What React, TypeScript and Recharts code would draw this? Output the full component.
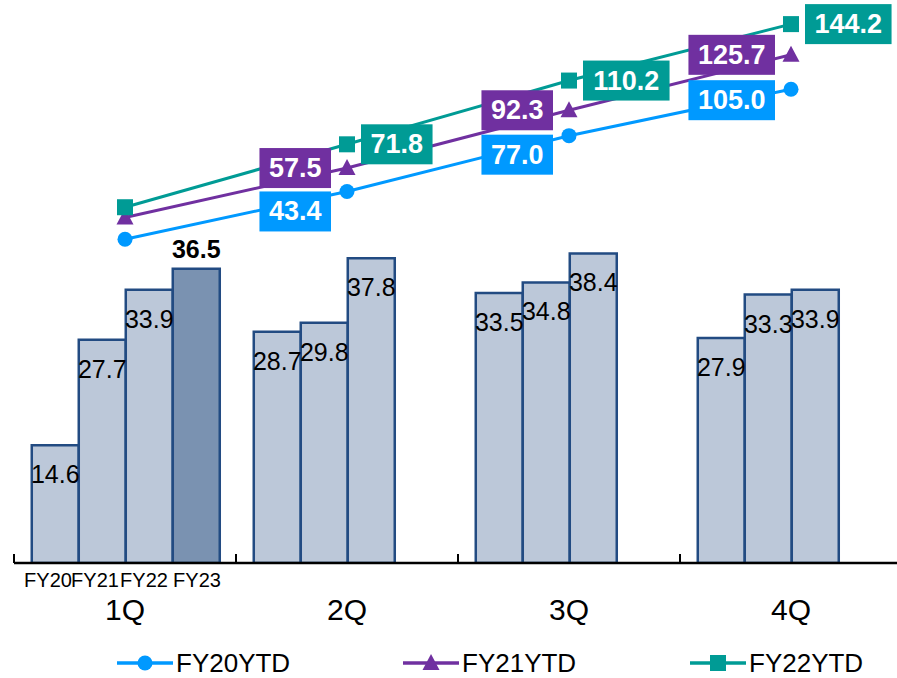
import React from 'react';
import { Bar, ComposedChart, LabelList, Line, XAxis, YAxis } from 'recharts';

const quarters = ['1Q', '2Q', '3Q', '4Q'];
const barNames = ['FY20', 'FY21', 'FY22', 'FY23'];
const fy20 = [14.6, 28.7, 33.5, 27.9];
const fy21 = [27.7, 29.8, 34.8, 33.3];
const fy22 = [33.9, 37.8, 38.4, 33.9];
const fy23 = [36.5, null, null, null];
const fy20Ytd = [14.6, 43.4, 77.0, 105.0];
const fy21Ytd = [27.7, 57.5, 92.3, 125.7];
const fy22Ytd = [33.9, 71.8, 110.2, 144.2];

const FONT = '"Liberation Sans", Arial, sans-serif';
const BLUE = '#0099FF';
const PURPLE = '#7030A0';
const TEAL = '#009B95';
const BAR_FILL = '#BCC8D9';
const BAR_FILL_DARK = '#7A92B1';
const BAR_STROKE = '#224B82';

const CHART_W = 910;
const MARGIN = { top: 10, right: 8, left: 14, bottom: 35 };
const HALF_BAND = (CHART_W - MARGIN.left - MARGIN.right) / quarters.length / 2;

// x offsets of the per-bar names under 1Q, relative to the category center
const NAME_OFFSETS = [-77, -30, 19, 72];
// vertical nudges of the FY20YTD label boxes (they sit below the line)
const FY20_LABEL_DY = [0, 20, 19, 11];

const rows = quarters.map((q, i) => ({
  q,
  fy20: fy20[i],
  fy21: fy21[i],
  fy22: fy22[i],
  fy23: fy23[i],
  fy20Ytd: fy20Ytd[i],
  fy21Ytd: fy21Ytd[i],
  fy22Ytd: fy22Ytd[i],
}));

function textWidth(s: string, size: number) {
  let w = 0;
  for (const c of s) w += c === '.' ? 0.278 : 0.556;
  return w * size;
}

function BoxLabel(props: any, color: string, side: 'left' | 'right', dy: number) {
  const { x, y, value, index } = props;
  if (index === 0 || value == null) return null;
  const text = Number(value).toFixed(1);
  const w = textWidth(text, 27) + 19;
  const h = 40;
  const left = side === 'left' ? x - 16 - w : x + 14;
  const cy = y + dy;
  return (
    <g key={`lbl-${index}`}>
      <rect x={left} y={cy - h / 2} width={w} height={h} fill={color} />
      <text
        x={left + w / 2}
        y={cy}
        textAnchor="middle"
        dominantBaseline="central"
        fill="#fff"
        fontSize={27}
        fontWeight="bold"
        fontFamily={FONT}
      >
        {text}
      </text>
    </g>
  );
}

function BarInsideLabel(props: any) {
  const { x, y, width, value } = props;
  if (value == null) return null;
  return (
    <text
      x={x + width / 2}
      y={y + 29}
      textAnchor="middle"
      dominantBaseline="central"
      fill="#000"
      fontSize={25}
      fontFamily={FONT}
    >
      {Number(value).toFixed(1)}
    </text>
  );
}

function BarTopLabel(props: any) {
  const { x, y, width, value } = props;
  if (value == null) return null;
  return (
    <text
      x={x + width / 2}
      y={y - 20}
      textAnchor="middle"
      dominantBaseline="central"
      fill="#000"
      fontSize={25}
      fontWeight="bold"
      fontFamily={FONT}
    >
      {Number(value).toFixed(1)}
    </text>
  );
}

function Marker({ cx, cy, shape, color }: { cx: number; cy: number; shape: string; color: string }) {
  if (shape === 'circle') return <circle cx={cx} cy={cy} r={7.5} fill={color} />;
  if (shape === 'square') return <rect x={cx - 8} y={cy - 8} width={16} height={16} fill={color} />;
  return <polygon points={`${cx},${cy - 9} ${cx + 8.5},${cy + 7} ${cx - 8.5},${cy + 7}`} fill={color} />;
}

function dotFor(shape: string, color: string) {
  return (p: any) => {
    if (p.cx == null || p.cy == null) return <g key={`d-${p.index}`} />;
    return <Marker key={`d-${p.index}`} cx={p.cx} cy={p.cy} shape={shape} color={color} />;
  };
}

function CategoryTick(props: any) {
  const { x, y, payload, index } = props;
  return (
    <g>
      {/* category boundary tick, pointing up into the plot */}
      <line x1={x - HALF_BAND} y1={y - 9} x2={x - HALF_BAND} y2={y} stroke="#000" strokeWidth={2} />
      {index === 0 &&
        barNames.map((n, i) => (
          <text
            key={n}
            x={x + NAME_OFFSETS[i]}
            y={y + 17}
            textAnchor="middle"
            dominantBaseline="central"
            fontSize={20}
            fontFamily={FONT}
            fill="#000"
          >
            {n}
          </text>
        ))}
      <text
        x={x}
        y={y + 46}
        textAnchor="middle"
        dominantBaseline="central"
        fontSize={30}
        fontFamily={FONT}
        fill="#000"
      >
        {payload.value}
      </text>
    </g>
  );
}

const legendItems = [
  { name: 'FY20YTD', color: BLUE, shape: 'circle', left: 117 },
  { name: 'FY21YTD', color: PURPLE, shape: 'triangle', left: 403 },
  { name: 'FY22YTD', color: TEAL, shape: 'square', left: 690 },
];

export default function App() {
  return (
    <div
      style={{
        position: 'absolute',
        left: 0,
        top: 0,
        width: 897,
        height: 678,
        overflow: 'hidden',
        background: '#fff',
        fontFamily: FONT,
      }}
    >
      <ComposedChart width={CHART_W} height={678} data={rows} margin={MARGIN} barGap={0} barCategoryGap="8%">
        <XAxis
          xAxisId="cat"
          dataKey="q"
          axisLine={{ stroke: '#000', strokeWidth: 2.5 }}
          tickLine={false}
          tickSize={0}
          tickMargin={0}
          height={80}
          interval={0}
          tick={CategoryTick}
        />
        <YAxis yAxisId="bar" hide domain={[0, 68.6]} allowDataOverflow />
        <YAxis yAxisId="line" hide domain={[-180.4, 152.7]} allowDataOverflow />

        <Bar xAxisId="cat" yAxisId="bar" dataKey="fy20" fill={BAR_FILL} stroke={BAR_STROKE} strokeWidth={2.5} isAnimationActive={false}>
          <LabelList dataKey="fy20" content={BarInsideLabel} />
        </Bar>
        <Bar xAxisId="cat" yAxisId="bar" dataKey="fy21" fill={BAR_FILL} stroke={BAR_STROKE} strokeWidth={2.5} isAnimationActive={false}>
          <LabelList dataKey="fy21" content={BarInsideLabel} />
        </Bar>
        <Bar xAxisId="cat" yAxisId="bar" dataKey="fy22" fill={BAR_FILL} stroke={BAR_STROKE} strokeWidth={2.5} isAnimationActive={false}>
          <LabelList dataKey="fy22" content={BarInsideLabel} />
        </Bar>
        <Bar xAxisId="cat" yAxisId="bar" dataKey="fy23" fill={BAR_FILL_DARK} stroke={BAR_STROKE} strokeWidth={2.5} isAnimationActive={false}>
          <LabelList dataKey="fy23" content={BarTopLabel} />
        </Bar>

        <Line xAxisId="cat" yAxisId="line" dataKey="fy20Ytd" stroke={BLUE} strokeWidth={3} dot={dotFor('circle', BLUE)} activeDot={false} isAnimationActive={false}>
          <LabelList dataKey="fy20Ytd" content={(p: any) => BoxLabel(p, BLUE, 'left', FY20_LABEL_DY[p.index] ?? 19)} />
        </Line>
        <Line xAxisId="cat" yAxisId="line" dataKey="fy21Ytd" stroke={PURPLE} strokeWidth={3} dot={dotFor('triangle', PURPLE)} activeDot={false} isAnimationActive={false}>
          <LabelList dataKey="fy21Ytd" content={(p: any) => BoxLabel(p, PURPLE, 'left', 0)} />
        </Line>
        <Line xAxisId="cat" yAxisId="line" dataKey="fy22Ytd" stroke={TEAL} strokeWidth={3} dot={dotFor('square', TEAL)} activeDot={false} isAnimationActive={false}>
          <LabelList dataKey="fy22Ytd" content={(p: any) => BoxLabel(p, TEAL, 'right', 0)} />
        </Line>
      </ComposedChart>

      {legendItems.map((it) => (
        <div key={it.name} style={{ position: 'absolute', left: it.left, top: 648, height: 30, display: 'flex', alignItems: 'center' }}>
          <svg width={56} height={20}>
            <line x1={0} y1={10} x2={56} y2={10} stroke={it.color} strokeWidth={3.5} />
            <Marker cx={28} cy={10} shape={it.shape} color={it.color} />
          </svg>
          <span style={{ fontSize: 26, color: '#000', marginLeft: 3, lineHeight: '30px' }}>{it.name}</span>
        </div>
      ))}
    </div>
  );
}
